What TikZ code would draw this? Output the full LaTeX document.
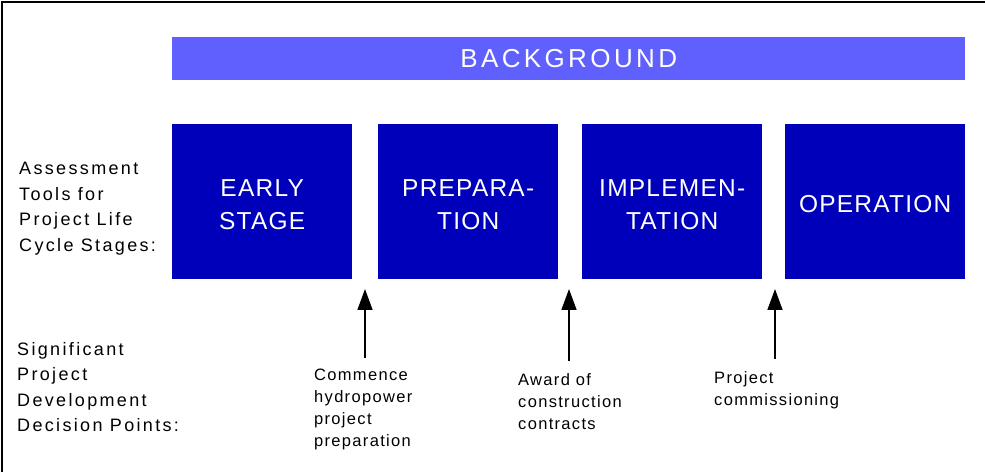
\documentclass[tikz,border=0pt]{standalone}
\usepackage{fontspec}
\setmainfont{Liberation Sans}
\newfontfamily\labfont[LetterSpace=13,WordSpace=1.6]{Liberation Sans}
\newfontfamily\boxfont[LetterSpace=5]{Liberation Sans}
\newfontfamily\bgfont[LetterSpace=13]{Liberation Sans}
\newfontfamily\botfont[LetterSpace=8]{Liberation Sans}
\usetikzlibrary{arrows.meta}
\definecolor{bgblue}{RGB}{96,96,255}
\definecolor{stageblue}{RGB}{0,0,187}
\begin{document}
\begin{tikzpicture}[x=1bp,y=-1bp,
  stagebox/.style={fill=stageblue, draw=none, minimum width=180bp,
    minimum height=155bp, inner sep=0pt, anchor=north west},
  stagetext/.style={text=white, inner sep=0pt, align=center,
    font=\boxfont\fontsize{24.5bp}{33bp}\selectfont},
  bgbar/.style={fill=bgblue, draw=none, text=white, minimum width=793bp,
    minimum height=43bp, inner sep=0pt, anchor=north west,
    font=\bgfont\fontsize{26bp}{30bp}\selectfont},
  sidelabel/.style={anchor=north west, inner sep=0pt, align=left,
    font=\labfont\fontsize{18bp}{25.5bp}\selectfont},
  decisionlabel/.style={anchor=north west, inner sep=0pt, align=left,
    font=\botfont\fontsize{16.5bp}{22bp}\selectfont},
  milestone/.style={line width=1.5bp, -{Triangle[length=21bp,width=15bp]}}
]
\useasboundingbox (0,0) rectangle (985,472);
% frame
\draw[line width=2bp] (2,475) -- (2,2) -- (988,2);
% background bar
\node[bgbar] (bg) at (172,37) {BACKGROUND};
% stage boxes
\node[stagebox] (early) at (172,124) {};
\node[stagebox] (prep) at (378,124) {};
\node[stagebox] (impl) at (582,124) {};
\node[stagebox] (oper) at (785,124) {};
\node[stagetext] (earlyT) at ([yshift=-2.5bp]early.center) {EARLY\\STAGE};
\node[stagetext] (prepT) at ([yshift=-2.5bp]prep.center) {PREPARA-\\TION};
\node[stagetext] (implT) at ([yshift=-2.5bp]impl.center) {IMPLEMEN-\\TATION};
\node[stagetext] (operT) at ([yshift=-2.5bp]oper.center) {OPERATION};
% side labels
\node[sidelabel] (tools) at (19,162) {Assessment\\Tools for\\Project Life\\Cycle Stages:};
\node[sidelabel] (points) at (17,342) {Significant\\Project\\Development\\Decision Points:};
% decision arrows
\coordinate (t1) at (365,289); \coordinate (b1) at (365,358);
\coordinate (t2) at (569,289); \coordinate (b2) at (569,361);
\coordinate (t3) at (775,289); \coordinate (b3) at (775,359);
\draw[milestone] (b1) -- (t1);
\draw[milestone] (b2) -- (t2);
\draw[milestone] (b3) -- (t3);
% decision labels
\node[decisionlabel] (d1) at (314,369) {Commence\\hydropower\\project\\preparation};
\node[decisionlabel] (d2) at (518,373) {Award of\\construction\\contracts};
\node[decisionlabel] (d3) at (714,371) {Project\\commissioning};
\end{tikzpicture}
\end{document}
